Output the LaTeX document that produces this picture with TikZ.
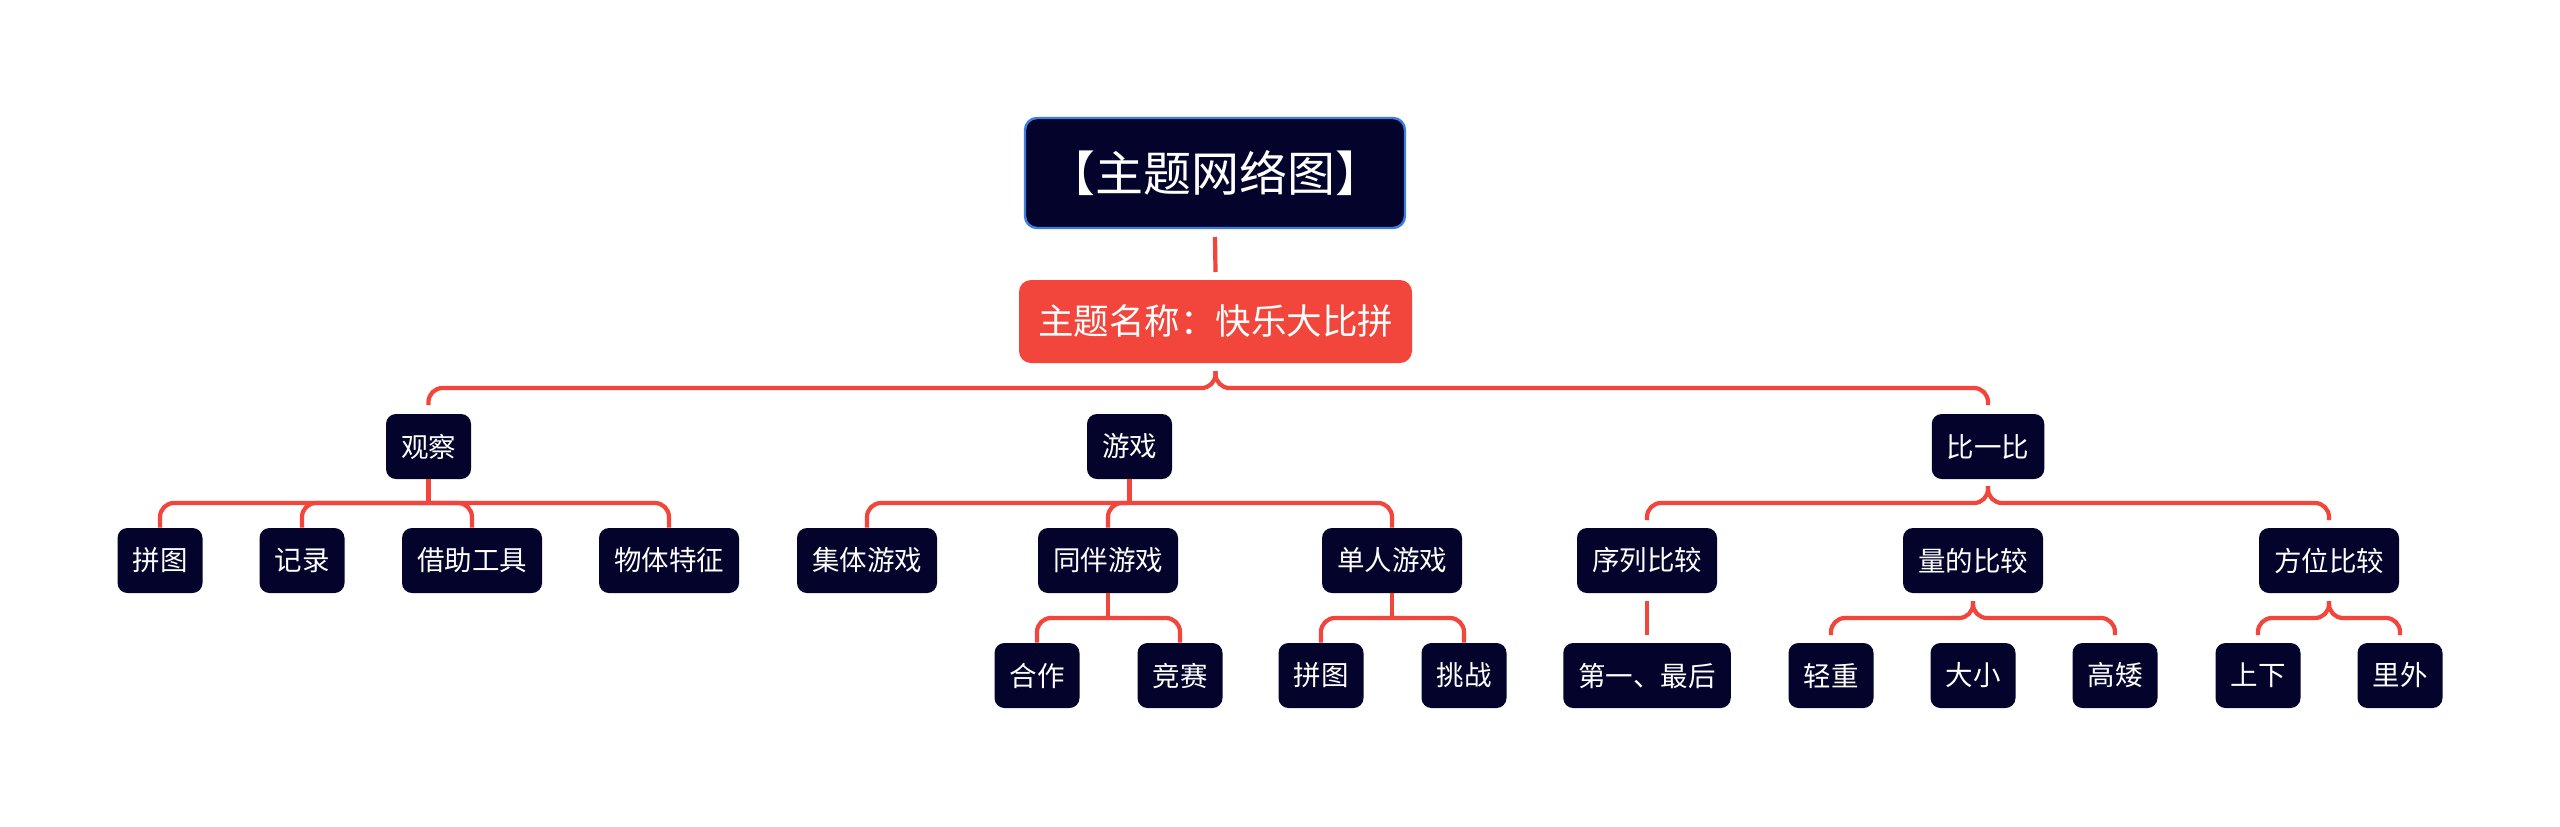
\documentclass[tikz,border=0pt]{standalone}
\usepackage{fontspec}
\setmainfont{Noto Sans CJK SC}
\usetikzlibrary{positioning}
\definecolor{navy}{HTML}{03032B}
\definecolor{linkred}{HTML}{F2453B}
\definecolor{titleblue}{HTML}{3D7FE0}
\tikzset{
    titlebox/.style={draw=titleblue, fill=navy, rounded corners=6pt, line width=1.2pt, text=white, inner xsep=11pt, inner ysep=0pt, minimum height=55pt, font=\fontsize{24}{28}\selectfont},
    themebox/.style={fill=linkred, rounded corners=6pt, text=white, inner xsep=9.5pt, inner ysep=0pt, minimum height=41.5pt, font=\fontsize{17.75}{21}\selectfont},
    itembox/.style={fill=navy, rounded corners=5pt, text=white, inner xsep=7.5pt, inner ysep=0pt, minimum height=32.5pt, font=\fontsize{13.75}{16}\selectfont},
    link/.style={draw=linkred, line width=2.1pt, rounded corners=7pt}
}

\begin{document}
\begin{tikzpicture}[x=0.5pt, y=-0.5pt]

        \fill[white] (0,0) rectangle (2560,826);
        \useasboundingbox (0,0) rectangle (2560,826);

        % -----------------------------------------------------------------
        % TITOLO E TEMA
        % -----------------------------------------------------------------
        \node[titlebox] (title) at (1215,173) {【主题网络图】};
        \node[themebox] (theme) at (1215.5,321.5) {主题名称：快乐大比拼};

        \draw[link] (title.south |- 0,237) -- (theme.north |- 0,272);

        % -----------------------------------------------------------------
        % PRIMO LIVELLO
        % -----------------------------------------------------------------
        \node[itembox] (observe) at (428.5,446.5) {观察};
        \node[itembox] (play) at (1129.5,446.5) {游戏};
        \node[itembox] (compare) at (1988,446.5) {比一比};

        \draw[link] (theme.south |- 0,371) -- (theme.south |- 0,388) -- (observe.north |- 0,388) -- (observe.north |- 0,405);
        \draw[link] (theme.south |- 0,371) -- (theme.south |- 0,388) -- (compare.north |- 0,388) -- (compare.north |- 0,405);

        % -----------------------------------------------------------------
        % SECONDO LIVELLO
        % -----------------------------------------------------------------
        \node[itembox] (puzzle) at (160,560.5) {拼图};
        \node[itembox] (record) at (302,560.5) {记录};
        \node[itembox] (tools) at (472,560.5) {借助工具};
        \node[itembox] (feature) at (669,560.5) {物体特征};

        \node[itembox] (groupplay) at (867,560.5) {集体游戏};
        \node[itembox] (pairplay) at (1108,560.5) {同伴游戏};
        \node[itembox] (soloplay) at (1392,560.5) {单人游戏};

        \node[itembox] (sequence) at (1647,560.5) {序列比较};
        \node[itembox] (quantity) at (1973,560.5) {量的比较};
        \node[itembox] (position) at (2329,560.5) {方位比较};

        \draw[link] (observe.south) -- (observe.south |- 0,503);
        \foreach \kid in {puzzle, record, tools, feature}
            \draw[link] (observe.south |- 0,503) -- (\kid.north |- 0,503) -- (\kid.north);

        \draw[link] (play.south) -- (play.south |- 0,503);
        \foreach \kid in {groupplay, pairplay, soloplay}
            \draw[link] (play.south |- 0,503) -- (\kid.north |- 0,503) -- (\kid.north);

        \foreach \kid in {sequence, position}
            \draw[link] (compare.south |- 0,486) -- (compare.south |- 0,503) -- (\kid.north |- 0,503) -- (\kid.north |- 0,520);

        % -----------------------------------------------------------------
        % TERZO LIVELLO
        % -----------------------------------------------------------------
        \node[itembox] (coop) at (1037,675.5) {合作};
        \node[itembox] (contest) at (1180,675.5) {竞赛};
        \node[itembox] (solopuzzle) at (1321,675.5) {拼图};
        \node[itembox] (challenge) at (1464,675.5) {挑战};

        \node[itembox] (firstlast) at (1647,675.5) {第一、最后};
        \node[itembox] (weight) at (1831,675.5) {轻重};
        \node[itembox] (size) at (1973,675.5) {大小};
        \node[itembox] (height) at (2115,675.5) {高矮};
        \node[itembox] (updown) at (2258,675.5) {上下};
        \node[itembox] (inout) at (2400,675.5) {里外};

        \draw[link] (pairplay.south) -- (pairplay.south |- 0,618);
        \foreach \kid in {coop, contest}
            \draw[link] (pairplay.south |- 0,618) -- (\kid.north |- 0,618) -- (\kid.north);

        \draw[link] (soloplay.south) -- (soloplay.south |- 0,618);
        \foreach \kid in {solopuzzle, challenge}
            \draw[link] (soloplay.south |- 0,618) -- (\kid.north |- 0,618) -- (\kid.north);

        \draw[link] (sequence.south |- 0,601) -- (firstlast.north |- 0,635);

        \foreach \kid in {weight, height}
            \draw[link] (quantity.south |- 0,601) -- (quantity.south |- 0,618) -- (\kid.north |- 0,618) -- (\kid.north |- 0,635);

        \foreach \kid in {updown, inout}
            \draw[link] (position.south |- 0,601) -- (position.south |- 0,618) -- (\kid.north |- 0,618) -- (\kid.north |- 0,635);

    \end{tikzpicture}
\end{document}
